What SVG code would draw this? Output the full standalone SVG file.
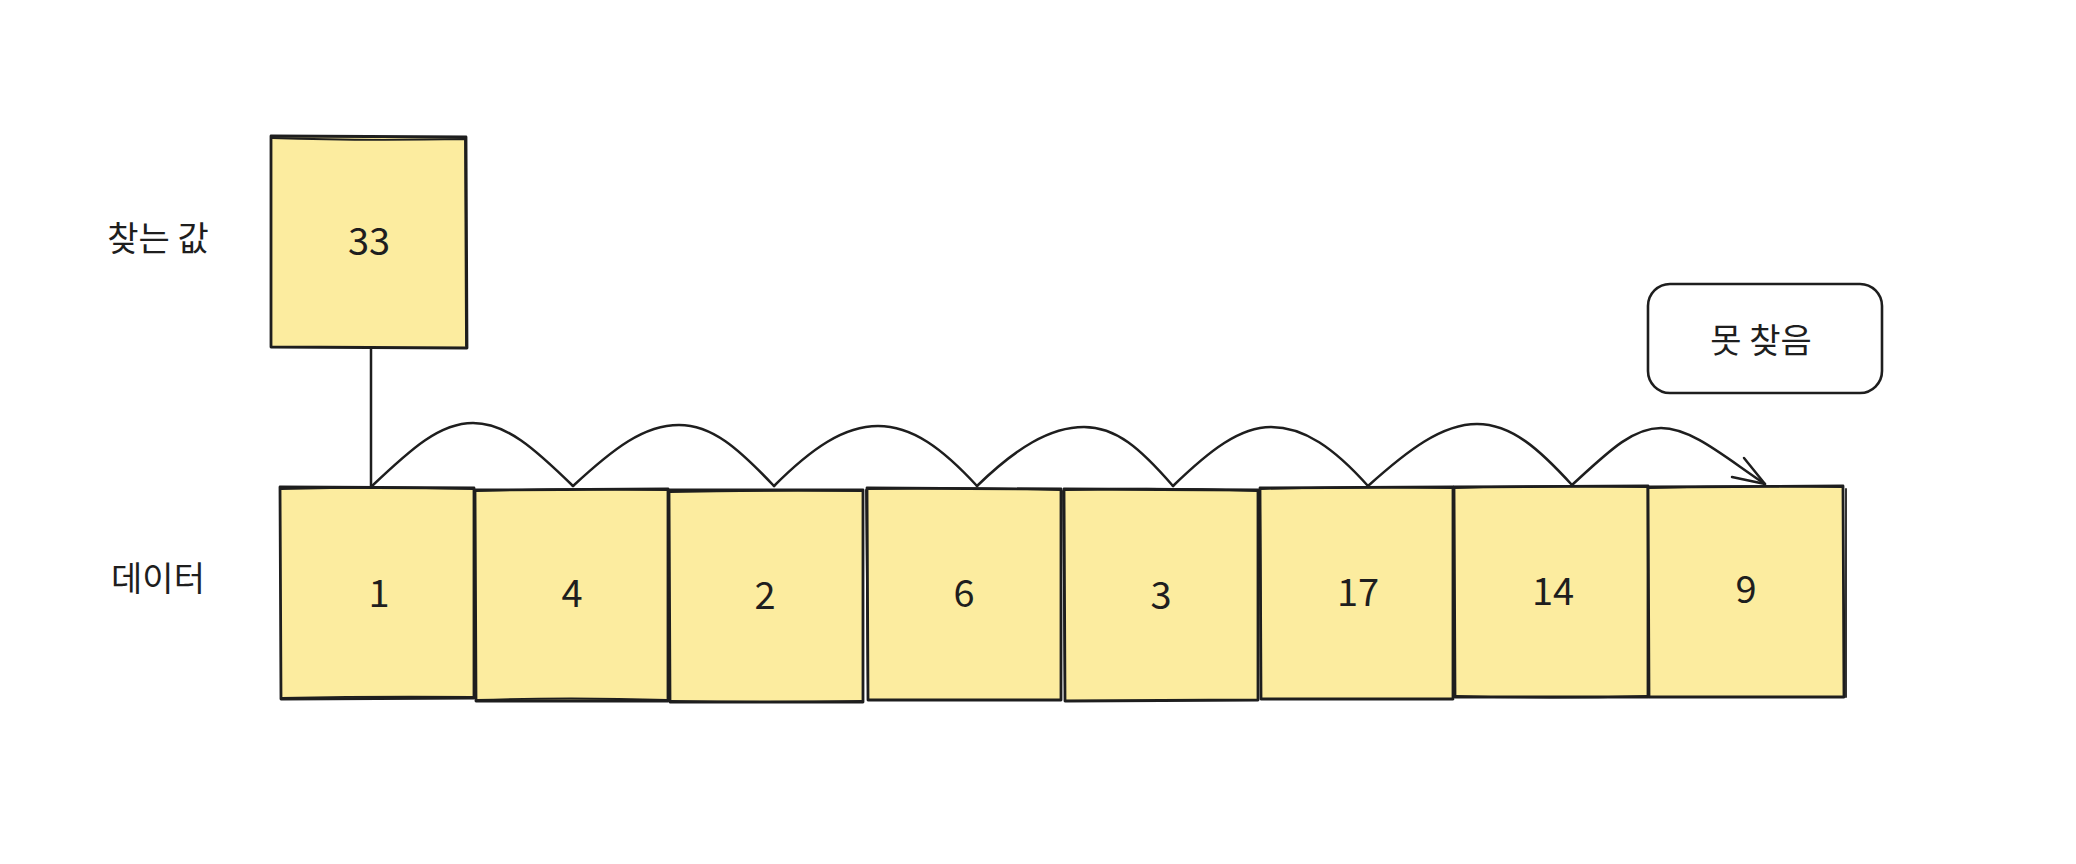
<svg xmlns="http://www.w3.org/2000/svg" width="2076" height="864" viewBox="0 0 2076 864">
<style>
  .box { fill: #fcec9f; stroke: #1e1e1e; stroke-width: 2.8; stroke-linejoin: round; }
  .sk { fill: none; stroke: #1e1e1e; stroke-width: 1.8; stroke-linecap: round; }
  .pill { fill: #ffffff; stroke: #1e1e1e; stroke-width: 2.6; }
  .lbl { font-family: "Noto Sans CJK KR", "Noto Sans", sans-serif; font-size: 34px; fill: #1e1e1e; text-anchor: middle; }
  .num { font-family: "Noto Sans CJK KR", "Noto Sans", sans-serif; font-size: 38px; fill: #1e1e1e; text-anchor: middle; }
  .conn { fill: none; stroke: #1e1e1e; stroke-width: 2.5; stroke-linecap: round; stroke-linejoin: round; }
</style>
<rect width="2076" height="864" fill="#ffffff"/>

<g id="label-target">
  <text class="lbl" x="158" y="251">찾는 값</text>
</g>
<g id="label-data">
  <text class="lbl" x="158" y="591">데이터</text>
</g>

<g id="node-33">
  <path class="box" d="M271 136 L466 137 L467 348 L271 347 Z"/>
  <path class="sk" d="M272 138 Q360 141 465 139 M465 140 L466 346"/>
  <text class="num" x="369" y="255">33</text>
</g>

<g id="node-notfound">
  <rect class="pill" x="1648" y="284" width="234" height="109" rx="22" ry="22"/>
  <text class="lbl" x="1761" y="353">못 찾음</text>
</g>

<g id="node-1">
  <path class="box" d="M280 487 L474 488 L474 698 L281 699 Z"/>
  <path class="sk" d="M281 489 Q380 486 473 489 M282 698 Q380 696 473 697"/>
  <text class="num" x="379" y="607">1</text>
</g>
<g id="node-4">
  <path class="box" d="M475 490 L668 489 L668 701 L476 701 Z"/>
  <path class="sk" d="M476 491 Q570 488 667 490 M477 700 Q570 697 667 700"/>
  <text class="num" x="572" y="607">4</text>
</g>
<g id="node-2">
  <path class="box" d="M669 490 L863 490 L863 702 L670 702 Z"/>
  <path class="sk" d="M670 492 Q765 490 862 491 M671 701 Q765 703 862 701"/>
  <text class="num" x="765" y="609">2</text>
</g>
<g id="node-6">
  <path class="box" d="M867 488 L1061 489 L1061 700 L868 700 Z"/>
  <path class="sk" d="M868 489 Q965 487 1060 490 M866 490 L868 699"/>
  <text class="num" x="964" y="607">6</text>
</g>
<g id="node-3">
  <path class="box" d="M1064 489 L1258 490 L1258 700 L1065 701 Z"/>
  <path class="sk" d="M1065 490 Q1160 487 1257 491 M1063 491 L1065 700"/>
  <text class="num" x="1161" y="609">3</text>
</g>
<g id="node-17">
  <path class="box" d="M1260 488 L1453 487 L1453 699 L1261 699 Z"/>
  <path class="sk" d="M1261 489 Q1360 486 1452 488 M1260 490 L1261 698"/>
  <text class="num" x="1358" y="606">17</text>
</g>
<g id="node-14">
  <path class="box" d="M1454 487 L1648 486 L1648 697 L1455 697 Z"/>
  <path class="sk" d="M1455 488 Q1550 485 1647 487 M1456 696 Q1550 699 1647 696"/>
  <text class="num" x="1553" y="605">14</text>
</g>
<g id="node-9">
  <path class="box" d="M1648 487 L1843 486 L1844 697 L1649 697 Z"/>
  <path class="sk" d="M1649 488 Q1745 485 1842 487 M1846 489 L1846 697"/>
  <text class="num" x="1746" y="603">9</text>
</g>

<g id="connectors">
  <path class="conn" d="M371 348 L371 487"/>
  <path class="conn" d="M372 486 C412 448 440 423 473 423 C506 423 534 448 573 486"/>
  <path class="conn" d="M573 486 C614 448 644 425 679 425 C712 425 738 448 774 486"/>
  <path class="conn" d="M774 486 C812 448 844 426 878 426 C912 426 942 448 977 486"/>
  <path class="conn" d="M977 486 C1016 448 1050 427 1084 427 C1116 427 1140 448 1173 486"/>
  <path class="conn" d="M1173 486 C1210 450 1240 427 1271 427 C1304 427 1334 448 1368 486"/>
  <path class="conn" d="M1368 486 C1408 450 1442 424 1477 424 C1512 424 1540 450 1572 485"/>
  <path class="conn" d="M1572 485 C1608 452 1632 428 1661 428 C1692 428 1726 458 1765 484"/>
  <path class="conn" d="M1744 458 L1765 484 L1732 477"/>
</g>
</svg>
